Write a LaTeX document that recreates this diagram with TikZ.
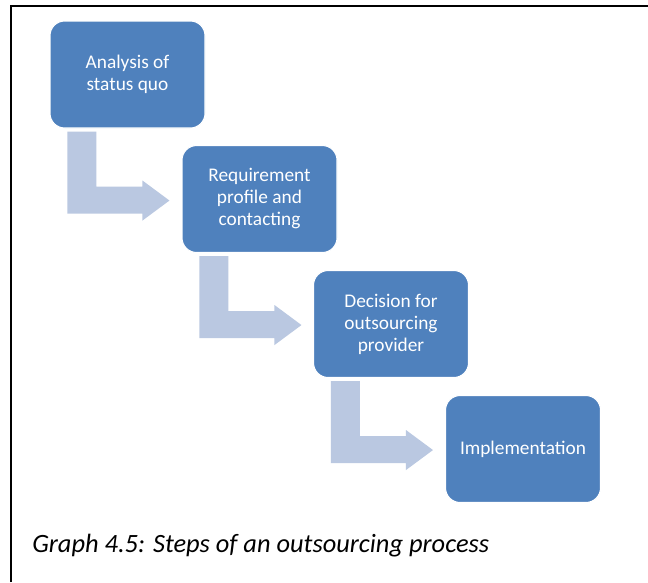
\documentclass[tikz,border=0pt]{standalone}
\usepackage{fontspec}
\setmainfont{Carlito}
\definecolor{boxblue}{RGB}{79,129,189}
\definecolor{arrowblue}{RGB}{186,200,225}
\begin{document}
\begin{tikzpicture}[x=0.75pt,y=-0.75pt,
  stepbox/.style={draw=white, line width=0.8pt, fill=boxblue, rounded corners=11pt,
    minimum width=116.25pt, minimum height=80.25pt, inner sep=0pt,
    text=white, align=center, font=\fontsize{14.5}{16.5}\selectfont},
  bentarrow/.style={fill=arrowblue, draw=none}]
\useasboundingbox (0,0) rectangle (648,582);
\fill[white] (0,0) rectangle (648,582);
\draw[line width=1.5pt] (10.5,582) -- (10.5,5.5) -- (648,5.5);

\node[stepbox] (a) at (127.5,74.5) {Analysis of\\status quo};
\node[stepbox] (b) at (259.5,199) {Requirement\\profile and\\contacting};
\node[stepbox] (c) at (391,324) {Decision for\\outsourcing\\provider};
\node[stepbox] (d) at (523,449) {Implementation};

\foreach \s in {a,b,c}{
  \begin{scope}[shift={(\s.south west)}]
    \fill[bentarrow] (18,3) -- (47,3) -- (47,58) -- (93,58) -- (93,52) -- (120,72)
      -- (93,92) -- (93,85) -- (18,85) -- cycle;
  \end{scope}
}

\node[anchor=base west, inner sep=0pt, font=\fontsize{19.8}{23}\selectfont\itshape] (cap) at (32,552)
  {Graph 4.5: Steps of an outsourcing process};
\end{tikzpicture}
\end{document}
